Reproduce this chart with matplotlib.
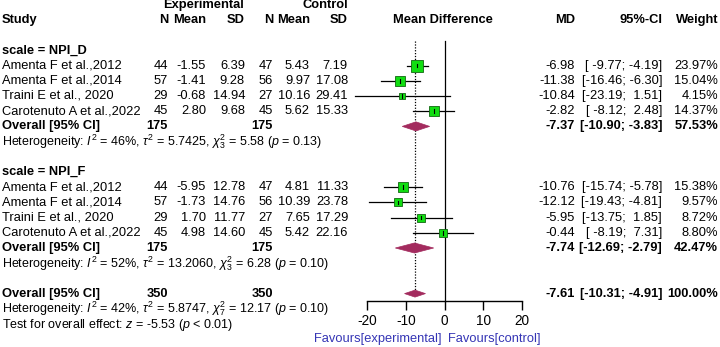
import matplotlib.pyplot as plt
from matplotlib.patches import Polygon

plt.rcParams["font.family"] = ["Liberation Sans", "DejaVu Sans"]
plt.rcParams["mathtext.fontset"] = "custom"
plt.rcParams["mathtext.rm"] = "Liberation Sans"
plt.rcParams["mathtext.it"] = "Liberation Sans:italic"

# study level data
studies = ["Amenta F et al.,2012", "Amenta F et al.,2014",
           "Traini E et al., 2020", "Carotenuto A et al.,2022"]
d_exp_n = [44, 57, 29, 45]
d_exp_mean = [-1.55, -1.41, -0.68, 2.80]
d_exp_sd = [6.39, 9.28, 14.94, 9.68]
d_ctl_n = [47, 56, 27, 45]
d_ctl_mean = [5.43, 9.97, 10.16, 5.62]
d_ctl_sd = [7.19, 17.08, 29.41, 15.33]
d_md = [-6.98, -11.38, -10.84, -2.82]
d_lo = [-9.77, -16.46, -23.19, -8.12]
d_hi = [-4.19, -6.30, 1.51, 2.48]
d_w = [23.97, 15.04, 4.15, 14.37]

f_exp_n = [44, 57, 29, 45]
f_exp_mean = [-5.95, -1.73, 1.70, 4.98]
f_exp_sd = [12.78, 14.76, 11.77, 14.60]
f_ctl_n = [47, 56, 27, 45]
f_ctl_mean = [4.81, 10.39, 7.65, 5.42]
f_ctl_sd = [11.33, 23.78, 17.29, 22.16]
f_md = [-10.76, -12.12, -5.95, -0.44]
f_lo = [-15.74, -19.43, -13.75, -8.19]
f_hi = [-5.78, -4.81, 1.85, 7.31]
f_w = [15.38, 9.57, 8.72, 8.80]

# pooled estimates: subgroup D, subgroup F, overall
pool_md = [-7.37, -7.74, -7.61]
pool_lo = [-10.90, -12.69, -10.31]
pool_hi = [-3.83, -2.79, -4.91]
pool_w = [57.53, 42.47, 100.00]
pool_n = [175, 175, 350]
het_text = [
    r"Heterogeneity: $I^2$ = 46%, $\tau^2$ = 5.7425, $\chi^2_3$ = 5.58 ($p$ = 0.13)",
    r"Heterogeneity: $I^2$ = 52%, $\tau^2$ = 13.2060, $\chi^2_3$ = 6.28 ($p$ = 0.10)",
    r"Heterogeneity: $I^2$ = 42%, $\tau^2$ = 5.8747, $\chi^2_7$ = 12.17 ($p$ = 0.10)",
]
xticks = [-20, -10, 0, 10, 20]

W, H = 720, 347
Y0, STEP = 20, 15.2  # pixel y of header row, row spacing


def row_of(px):
    return (px - Y0) / STEP


fig = plt.figure(figsize=(W / 100, H / 100), dpi=100)
ax = fig.add_axes([0, 0, 1, 1])
ax.set_xlim(0, W)
ax.set_ylim(row_of(H), row_of(0))
ax.axis("off")

# forest panel: x from -20 at px 367 to 20 at px 522, axis line at px 301
fx0, fx1, fy = 367, 522, 301
fa = fig.add_axes([fx0 / W, (H - fy) / H, (fx1 - fx0) / W, fy / H])
fa.set_xlim(-20, 20)
fa.set_ylim(row_of(fy), row_of(0))
fa.patch.set_alpha(0)
for s in ["top", "left", "right"]:
    fa.spines[s].set_visible(False)
fa.spines["bottom"].set_linewidth(1.0)
fa.set_yticks([])
fa.set_xticks(xticks)
fa.set_xticklabels([str(t) for t in xticks])
fa.tick_params(axis="x", length=6.5, width=1.0, labelsize=9.8, pad=3)

fs = 9.3
green = "#11dd11"
maroon = "#a32b5e"

# header
ax.text(204, -1, "Experimental", ha="center", va="center", fontsize=fs, weight="bold")
ax.text(348, -1, "Control", ha="right", va="center", fontsize=fs, weight="bold")
ax.text(2, 0, "Study", ha="left", va="center", fontsize=fs, weight="bold")
for x, t in zip([168, 206, 245, 273, 310, 348], ["N", "Mean", "SD", "N", "Mean", "SD"]):
    ax.text(x, 0, t, ha="right", va="center", fontsize=fs, weight="bold")
ax.text(443, 0, "Mean Difference", ha="center", va="center", fontsize=fs, weight="bold")
ax.text(575, 0, "MD", ha="right", va="center", fontsize=fs, weight="bold")
ax.text(662, 0, "95%-CI", ha="right", va="center", fontsize=fs, weight="bold")
ax.text(718, 0, "Weight", ha="right", va="center", fontsize=fs, weight="bold")


def ci_str(lo, hi):
    return "[%6.2f; %5.2f]" % (lo, hi)


def draw_study(r, name, en, em, es, cn, cm, cs, md, lo, hi, w):
    ax.text(2, r, name, ha="left", va="center", fontsize=fs)
    vals = ["%d" % en, "%.2f" % em, "%.2f" % es, "%d" % cn, "%.2f" % cm, "%.2f" % cs]
    for x, t in zip([168, 206, 245, 273, 310, 348], vals):
        ax.text(x, r, t, ha="right", va="center", fontsize=fs)
    ax.text(575, r, "%.2f" % md, ha="right", va="center", fontsize=fs)
    ax.text(662, r, ci_str(lo, hi), ha="right", va="center", fontsize=fs)
    ax.text(718, r, "%.2f%%" % w, ha="right", va="center", fontsize=fs)
    fa.plot([lo, hi], [r, r], color="black", lw=0.9, clip_on=False, zorder=3)
    fa.plot(md, r, marker="s", ms=1.9 * w ** 0.5, mfc=green, mec="#116611",
            mew=0.6, clip_on=False, zorder=4)
    fa.plot([md, md], [r - 0.12, r + 0.12], color="black", lw=0.8, clip_on=False, zorder=5)


def draw_pool(r, k, half):
    ax.text(2, r, "Overall [95% CI]", ha="left", va="center", fontsize=fs, weight="bold")
    ax.text(168, r, "%d" % pool_n[k], ha="right", va="center", fontsize=fs, weight="bold")
    ax.text(273, r, "%d" % pool_n[k], ha="right", va="center", fontsize=fs, weight="bold")
    ax.text(575, r, "%.2f" % pool_md[k], ha="right", va="center", fontsize=fs, weight="bold")
    ax.text(662, r, ci_str(pool_lo[k], pool_hi[k]), ha="right", va="center",
            fontsize=fs, weight="bold")
    ax.text(718, r, "%.2f%%" % pool_w[k], ha="right", va="center", fontsize=fs, weight="bold")
    fa.add_patch(Polygon([(pool_lo[k], r), (pool_md[k], r - half), (pool_hi[k], r),
                          (pool_md[k], r + half)], closed=True, fc=maroon, ec=maroon,
                         lw=0.5, clip_on=False, zorder=4))
    ax.text(2, r + 1, het_text[k], ha="left", va="center", fontsize=fs - 0.3)


# reference lines
fa.plot([0, 0], [row_of(41), row_of(fy)], color="black", lw=0.9, clip_on=False, zorder=2)
fa.plot([pool_md[2], pool_md[2]], [row_of(41), 18], color="black", lw=0.9,
        linestyle=(0, (1.0, 1.3)), clip_on=False, zorder=2)

ax.text(2, 2, "scale = NPI_D", ha="left", va="center", fontsize=fs, weight="bold")
for i in range(4):
    draw_study(3 + i, studies[i], d_exp_n[i], d_exp_mean[i], d_exp_sd[i], d_ctl_n[i],
               d_ctl_mean[i], d_ctl_sd[i], d_md[i], d_lo[i], d_hi[i], d_w[i])
draw_pool(7, 0, 0.3)

ax.text(2, 10, "scale = NPI_F", ha="left", va="center", fontsize=fs, weight="bold")
for i in range(4):
    draw_study(11 + i, studies[i], f_exp_n[i], f_exp_mean[i], f_exp_sd[i], f_ctl_n[i],
               f_ctl_mean[i], f_ctl_sd[i], f_md[i], f_lo[i], f_hi[i], f_w[i])
draw_pool(15, 1, 0.33)

draw_pool(18, 2, 0.23)
ax.text(2, 20.05, r"Test for overall effect: $z$ = -5.53 ($p$ < 0.01)", ha="left",
        va="center", fontsize=fs - 0.3)

ax.text(378, row_of(339), "Favours[experimental]", ha="center", va="center",
        fontsize=fs, color="#3535b5")
ax.text(494, row_of(339), "Favours[control]", ha="center", va="center",
        fontsize=fs, color="#3535b5")

fig.savefig("out.png", dpi=100)
